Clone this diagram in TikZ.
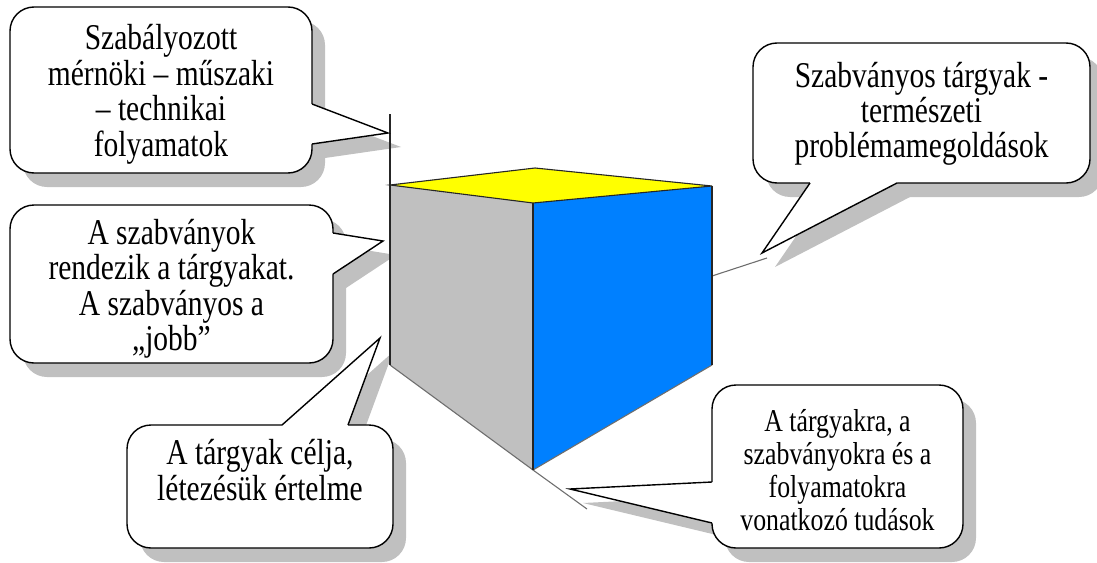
\documentclass[tikz,border=0pt]{standalone}
\usepackage{graphicx}
\usepackage{fontspec}
\setmainfont{Liberation Serif}
\usetikzlibrary{calc}
\definecolor{shadowc}{RGB}{192,192,192}
\definecolor{facegray}{RGB}{192,192,192}
\definecolor{faceblue}{RGB}{0,128,255}
\definecolor{faceyellow}{RGB}{255,255,0}
\definecolor{edgegray}{RGB}{110,110,110}
\newcommand{\stretchtext}[1]{\scalebox{1}[1.23]{\begin{tabular}{@{}c@{}}#1\end{tabular}}}
\tikzset{
  shadowbox/.style={fill=shadowc, draw=none, rounded corners=24pt, inner sep=0pt},
  calloutbox/.style={fill=white, draw=black, line width=1.4pt, rounded corners=24pt, inner sep=0pt},
  ptrfill/.style={fill=white, draw=none},
  ptrline/.style={draw=black, line width=1.4pt, line join=miter},
  bigtxt/.style={align=center, inner sep=0pt, font=\fontsize{29.5}{27.6}\selectfont},
  smalltxt/.style={align=center, inner sep=0pt, font=\fontsize{25.8}{26.8}\selectfont},
  darkedge/.style={draw=black!85, line width=1.1pt},
  lightedge/.style={draw=edgegray, line width=1.1pt},
}
\begin{document}
\begin{tikzpicture}[x=1pt,y=-1pt]
\useasboundingbox (0,0) rectangle (1097,562);
% ---------- coordinates ----------
\coordinate (b11) at (312,104); \coordinate (t1) at (388,133); \coordinate (b12) at (312,144);
\coordinate (b21) at (333,233); \coordinate (t2) at (383,241); \coordinate (b22) at (333,274);
\coordinate (b31) at (810,183); \coordinate (t3) at (762,253); \coordinate (b32) at (897,183);
\coordinate (b41) at (282,425); \coordinate (t4) at (380,338); \coordinate (b42) at (348,425);
\coordinate (b51) at (712,482); \coordinate (t5) at (570,489); \coordinate (b52) at (712,523);
\def\ox{13}\def\oy{14}
% ---------- shadows ----------
\node[shadowbox, minimum width=302, minimum height=166] (s1) at (161+\ox,90+\oy) {};
\node[shadowbox, minimum width=323, minimum height=158] (s2) at (171.5+\ox,284+\oy) {};
\node[shadowbox, minimum width=337, minimum height=140] (s3) at (921.5+\ox,113+\oy) {};
\node[shadowbox, minimum width=266, minimum height=123] (s4) at (260+\ox,486.5+\oy) {};
\node[shadowbox, minimum width=251, minimum height=163] (s5) at (837.5+\ox,466.5+\oy) {};
\foreach \a/\t/\b in {b11/t1/b12, b21/t2/b22, b31/t3/b32, b41/t4/b42, b51/t5/b52}{
  \fill[shadowc] ($(\a)+(\ox,\oy)$) -- ($(\t)+(\ox,\oy)$) -- ($(\b)+(\ox,\oy)$) -- cycle;
}
% ---------- cube ----------
\coordinate (A) at (390,185); \coordinate (B) at (535,168); \coordinate (C) at (712,186);
\coordinate (D) at (533,203); \coordinate (E) at (390,365); \coordinate (F) at (533,470);
\coordinate (G) at (712,365);
\coordinate (V) at (390,114); \coordinate (W) at (587,509);
\coordinate (R1) at (712,276); \coordinate (R2) at (767,258);
\fill[facegray] (A) -- (D) -- (F) -- (E) -- cycle;
\fill[faceblue] (D) -- (C) -- (G) -- (F) -- cycle;
\fill[faceyellow] (A) -- (B) -- (C) -- (D) -- cycle;
\draw[lightedge] (E) -- (F) -- (G);
\draw[lightedge] (F) -- (W);
\draw[lightedge] (R1) -- (R2);
\draw[darkedge] (A) -- (B) -- (C) -- (D) -- cycle;
\draw[darkedge] (D) -- (F);
\draw[darkedge] (C) -- (G);
\draw[darkedge] (V) -- (E);
% ---------- callouts ----------
\node[calloutbox, minimum width=302, minimum height=166] (c1) at (161,90) {};
\node[calloutbox, minimum width=323, minimum height=158] (c2) at (171.5,284) {};
\node[calloutbox, minimum width=337, minimum height=140] (c3) at (921.5,113) {};
\node[calloutbox, minimum width=266, minimum height=123] (c4) at (260,486.5) {};
\node[calloutbox, minimum width=251, minimum height=163] (c5) at (837.5,466.5) {};
% pointers (white fill reaching into the box, then the two sides)
\fill[ptrfill] ($(b11)+(-3,0)$) -- (b11) -- (t1) -- (b12) -- ($(b12)+(-3,0)$) -- cycle;
\fill[ptrfill] ($(b21)+(-3,0)$) -- (b21) -- (t2) -- (b22) -- ($(b22)+(-3,0)$) -- cycle;
\fill[ptrfill] ($(b31)+(0,-3)$) -- (b31) -- (t3) -- (b32) -- ($(b32)+(0,-3)$) -- cycle;
\fill[ptrfill] ($(b41)+(0,3)$) -- (b41) -- (t4) -- (b42) -- ($(b42)+(0,3)$) -- cycle;
\fill[ptrfill] ($(b51)+(3,0)$) -- (b51) -- (t5) -- (b52) -- ($(b52)+(3,0)$) -- cycle;
\draw[ptrline] (b11) -- (t1) -- (b12);
\draw[ptrline] (b21) -- (t2) -- (b22);
\draw[ptrline] (b31) -- (t3) -- (b32);
\draw[ptrline] (b41) -- (t4) -- (b42);
\draw[ptrline] (b51) -- (t5) -- (b52);
% ---------- texts ----------
\node[bigtxt] (x1) at (161,95.5) {\stretchtext{Szabályozott\\mérnöki – műszaki\\– technikai\\folyamatok}};
\node[bigtxt] (x2) at (171.5,290) {\stretchtext{A szabványok\\rendezik a tárgyakat.\\A szabványos a\\„jobb”}};
\node[bigtxt] (x3) at (921.5,115) {\stretchtext{Szabványos tárgyak -\\természeti\\problémamegoldások}};
\node[bigtxt] (x4) at (260,475) {\stretchtext{A tárgyak célja,\\létezésük értelme}};
\node[smalltxt] (x5) at (837.5,474) {\stretchtext{A tárgyakra, a\\szabványokra és a\\folyamatokra\\vonatkozó tudások}};
\end{tikzpicture}
\end{document}
